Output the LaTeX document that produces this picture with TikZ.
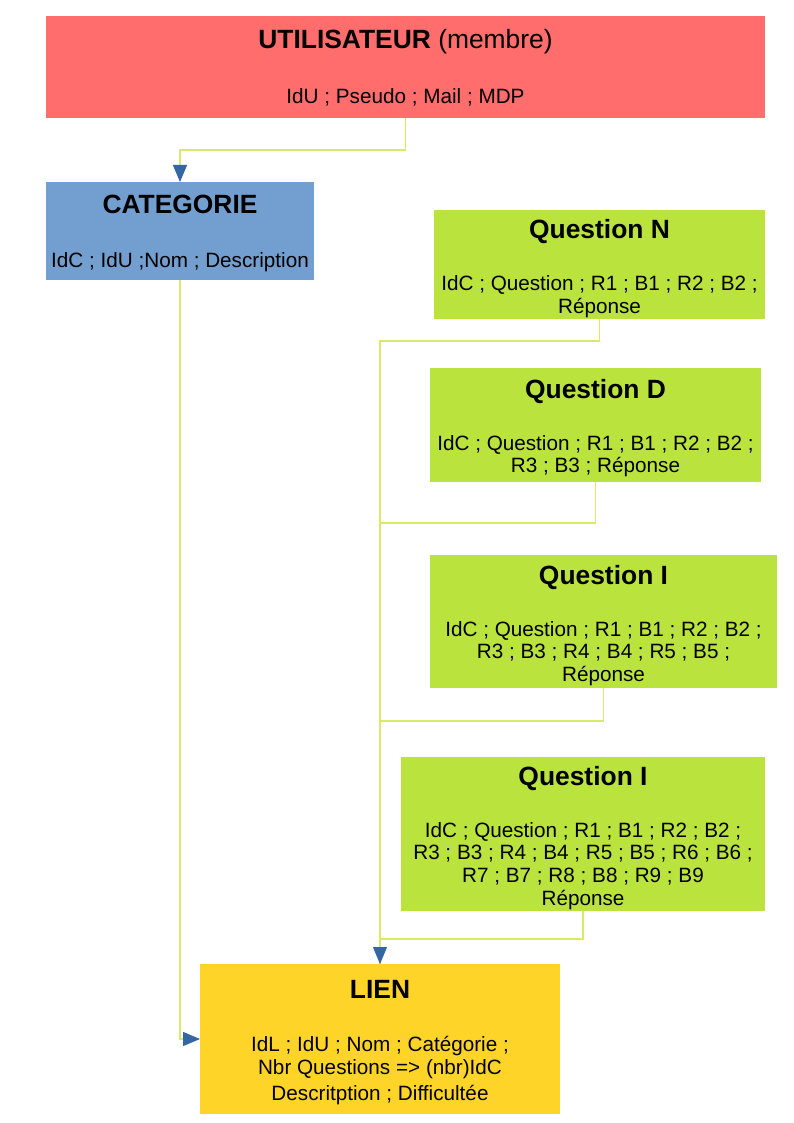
\documentclass[tikz,border=0pt]{standalone}
\usepackage{fontspec}
\setmainfont{Liberation Sans}
\usetikzlibrary{arrows.meta,calc}
\definecolor{redfill}{HTML}{FF6D6D}
\definecolor{bluefill}{HTML}{729FCF}
\definecolor{greenfill}{HTML}{BBE33D}
\definecolor{yellowfill}{HTML}{FFD428}
\definecolor{arrowblue}{HTML}{3465A4}
\definecolor{connline}{HTML}{D8EA6A}
\tikzset{
  box/.style={anchor=north west, inner sep=0pt, outer sep=0pt, draw=none},
  ttl/.style={anchor=base, inner sep=0pt, font=\fontsize{26.4}{30}\selectfont\bfseries},
  bdy/.style={anchor=north, inner sep=0pt, align=center, font=\fontsize{20.7}{22.7}\selectfont},
  conn/.style={draw=connline, line width=1.1pt},
  tip/.style={-{Triangle[width=14pt,length=17pt,color=arrowblue]}}
}
\begin{document}
\begin{tikzpicture}[x=1pt,y=-1pt]
\useasboundingbox[fill=white] (0,0) rectangle (794,1123);
% boxes
\node[box, fill=redfill, minimum width=719pt, minimum height=102pt] (u) at (46,16) {};
\node[box, fill=bluefill, minimum width=268pt, minimum height=98pt] (c) at (46,182) {};
\node[box, fill=greenfill, minimum width=331pt, minimum height=109pt] (qn) at (434,210) {};
\node[box, fill=greenfill, minimum width=331pt, minimum height=114pt] (qd) at (430,368) {};
\node[box, fill=greenfill, minimum width=347pt, minimum height=133pt] (qi) at (430,555) {};
\node[box, fill=greenfill, minimum width=364pt, minimum height=154pt] (qj) at (401,757) {};
\node[box, fill=yellowfill, minimum width=360pt, minimum height=150pt] (l) at (200,964) {};
% texts
\node[ttl] (ut) at (405.5,49) {UTILISATEUR \mdseries(membre)};
\node[bdy] (ub) at (405.5,88) {IdU ; Pseudo ; Mail ; MDP};
\node[ttl] (ct) at (180,214) {CATEGORIE};
\node[bdy] (cb) at (180,252) {IdC ; IdU ;Nom ; Description};
\node[ttl] (qnt) at (599.5,238) {Question N};
\node[bdy] (qnb) at (599.5,275.5) {IdC ; Question ; R1 ; B1 ; R2 ; B2 ;\\Réponse};
\node[ttl] (qdt) at (595.5,398) {Question D};
\node[bdy] (qdb) at (595.5,435) {IdC ; Question ; R1 ; B1 ; R2 ; B2 ;\\R3 ; B3 ; Réponse};
\node[ttl] (qit) at (603.5,584) {Question I};
\node[bdy] (qib) at (603.5,621) {IdC ; Question ; R1 ; B1 ; R2 ; B2 ;\\R3 ; B3 ; R4 ; B4 ; R5 ; B5 ;\\Réponse};
\node[ttl] (qjt) at (583,785) {Question I};
\node[bdy] (qjb) at (583,822) {IdC ; Question ; R1 ; B1 ; R2 ; B2 ;\\R3 ; B3 ; R4 ; B4 ; R5 ; B5 ; R6 ; B6 ;\\R7 ; B7 ; R8 ; B8 ; R9 ; B9\\Réponse};
\node[ttl] (lt) at (380,998) {LIEN};
\node[bdy] (lb) at (380,1036) {IdL ; IdU ; Nom ; Catégorie ;\\Nbr Questions => (nbr)IdC\\[4pt]Descritption ; Difficultée};
% connectors
\draw[conn] (qd.south) -- ++(0,41) -| (l.north);
\draw[conn] (qi.south) -- ++(0,33) -| (l.north);
\draw[conn] (qj.south) -- ++(0,28) -| (l.north);
\draw[conn, tip] (qn.south) -- ++(0,22) -| (l.north);
\draw[conn, tip] (u.south) -- ++(0,32) -| (c.north);
\draw[conn, tip] (c.south) |- (l.west);
\end{tikzpicture}
\end{document}
